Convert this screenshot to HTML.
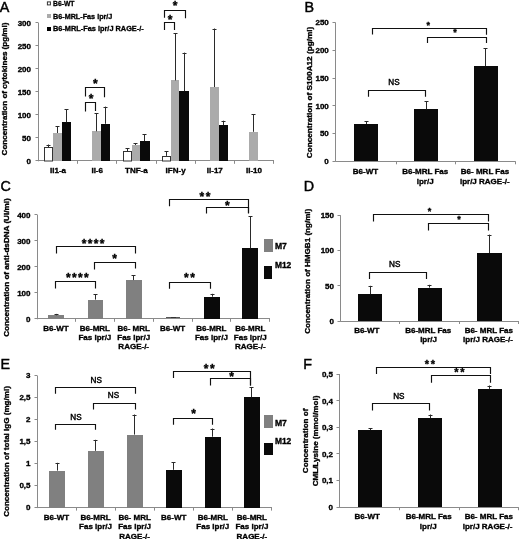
<!DOCTYPE html>
<html><head><meta charset="utf-8"><style>
html,body{margin:0;padding:0;background:#fff;width:520px;height:539px;overflow:hidden}
svg{display:block;font-family:"Liberation Sans", sans-serif;will-change:transform}
</style></head><body>
<svg width="520" height="539" viewBox="0 0 520 539">
<text x="-0.3" y="11.5" font-size="14.3" font-weight="normal" stroke="#000" stroke-width="0.45">A</text>
<line x1="38.5" y1="23" x2="38.5" y2="161.3" stroke="#8a8a8a" stroke-width="1"/>
<line x1="35.5" y1="160.5" x2="38.5" y2="160.5" stroke="#8a8a8a" stroke-width="1"/>
<text transform="translate(31.00,163.68) scale(1.0,1)" font-size="8.00" text-anchor="end" font-weight="bold" fill="#000" stroke="#000" stroke-width="0.35">0</text>
<line x1="35.5" y1="137.5" x2="38.5" y2="137.5" stroke="#8a8a8a" stroke-width="1"/>
<text transform="translate(31.00,140.68) scale(1.0,1)" font-size="8.00" text-anchor="end" font-weight="bold" fill="#000" stroke="#000" stroke-width="0.35">50</text>
<line x1="35.5" y1="114.5" x2="38.5" y2="114.5" stroke="#8a8a8a" stroke-width="1"/>
<text transform="translate(31.00,117.68) scale(1.0,1)" font-size="8.00" text-anchor="end" font-weight="bold" fill="#000" stroke="#000" stroke-width="0.35">100</text>
<line x1="35.5" y1="91.5" x2="38.5" y2="91.5" stroke="#8a8a8a" stroke-width="1"/>
<text transform="translate(31.00,94.68) scale(1.0,1)" font-size="8.00" text-anchor="end" font-weight="bold" fill="#000" stroke="#000" stroke-width="0.35">150</text>
<line x1="35.5" y1="68.5" x2="38.5" y2="68.5" stroke="#8a8a8a" stroke-width="1"/>
<text transform="translate(31.00,71.68) scale(1.0,1)" font-size="8.00" text-anchor="end" font-weight="bold" fill="#000" stroke="#000" stroke-width="0.35">200</text>
<line x1="35.5" y1="45.5" x2="38.5" y2="45.5" stroke="#8a8a8a" stroke-width="1"/>
<text transform="translate(31.00,48.68) scale(1.0,1)" font-size="8.00" text-anchor="end" font-weight="bold" fill="#000" stroke="#000" stroke-width="0.35">250</text>
<line x1="35.5" y1="22.5" x2="38.5" y2="22.5" stroke="#8a8a8a" stroke-width="1"/>
<text transform="translate(31.00,25.68) scale(1.0,1)" font-size="8.00" text-anchor="end" font-weight="bold" fill="#000" stroke="#000" stroke-width="0.35">300</text>
<line x1="38" y1="160.5" x2="274" y2="160.5" stroke="#8a8a8a" stroke-width="1"/>
<line x1="77.5" y1="160.8" x2="77.5" y2="163.8" stroke="#8a8a8a" stroke-width="1"/>
<line x1="116.5" y1="160.8" x2="116.5" y2="163.8" stroke="#8a8a8a" stroke-width="1"/>
<line x1="156.5" y1="160.8" x2="156.5" y2="163.8" stroke="#8a8a8a" stroke-width="1"/>
<line x1="195.5" y1="160.8" x2="195.5" y2="163.8" stroke="#8a8a8a" stroke-width="1"/>
<line x1="234.5" y1="160.8" x2="234.5" y2="163.8" stroke="#8a8a8a" stroke-width="1"/>
<line x1="273.5" y1="160.8" x2="273.5" y2="163.8" stroke="#8a8a8a" stroke-width="1"/>
<text transform="translate(7.1,89.0) rotate(-90)" x="0" y="0" font-size="8" text-anchor="middle" font-weight="bold" stroke="#000" stroke-width="0.35" textLength="132.9" lengthAdjust="spacingAndGlyphs">Concentration of cytokines (pg/ml)</text>
<rect x="47.4" y="1.9" width="3.0" height="3.0000000000000004" fill="#fff" stroke="#333" stroke-width="1"/>
<rect x="47" y="14" width="4" height="4" fill="#ababab"/>
<rect x="47" y="27" width="4" height="4" fill="#000"/>
<text transform="translate(53.00,5.80) scale(1.0,1)" font-size="8.00" text-anchor="start" font-weight="bold" fill="#000" stroke="#000" stroke-width="0.35" textLength="21.50" lengthAdjust="spacingAndGlyphs">B6-WT</text>
<text transform="translate(53.00,18.90) scale(1.0,1)" font-size="8.00" text-anchor="start" font-weight="bold" fill="#000" stroke="#000" stroke-width="0.35" textLength="59.40" lengthAdjust="spacingAndGlyphs">B6-MRL-Fas lpr/J</text>
<text transform="translate(53.00,31.40) scale(1.0,1)" font-size="8.00" text-anchor="start" font-weight="bold" fill="#000" stroke="#000" stroke-width="0.35" textLength="90.70" lengthAdjust="spacingAndGlyphs">B6-MRL-Fas lpr/J RAGE-/-</text>
<rect x="44.5" y="147.5" width="8.0" height="13.5" fill="#fff" stroke="#333" stroke-width="1"/>
<line x1="48.5" y1="144.5" x2="48.5" y2="147.4" stroke="#2a2a2a" stroke-width="1"/>
<line x1="46.5" y1="145.5" x2="50.5" y2="145.5" stroke="#2a2a2a" stroke-width="1"/>
<rect x="53" y="133" width="9" height="28" fill="#ababab"/>
<line x1="57.5" y1="126.4" x2="57.5" y2="133" stroke="#2a2a2a" stroke-width="1"/>
<line x1="55.5" y1="126.5" x2="59.5" y2="126.5" stroke="#2a2a2a" stroke-width="1"/>
<rect x="62" y="122" width="9" height="39" fill="#0a0a0a"/>
<line x1="66.5" y1="109" x2="66.5" y2="122.3" stroke="#2a2a2a" stroke-width="1"/>
<line x1="64.5" y1="109.5" x2="68.5" y2="109.5" stroke="#2a2a2a" stroke-width="1"/>
<rect x="92" y="131" width="9" height="30" fill="#ababab"/>
<line x1="96.5" y1="113.2" x2="96.5" y2="131.3" stroke="#2a2a2a" stroke-width="1"/>
<line x1="94.5" y1="113.5" x2="98.5" y2="113.5" stroke="#2a2a2a" stroke-width="1"/>
<rect x="101" y="124" width="9" height="37" fill="#0a0a0a"/>
<line x1="105.5" y1="106.6" x2="105.5" y2="123.8" stroke="#2a2a2a" stroke-width="1"/>
<line x1="103.5" y1="107.5" x2="107.5" y2="107.5" stroke="#2a2a2a" stroke-width="1"/>
<rect x="123.5" y="151.5" width="8.0" height="9.5" fill="#fff" stroke="#333" stroke-width="1"/>
<line x1="127.5" y1="148.3" x2="127.5" y2="151.3" stroke="#2a2a2a" stroke-width="1"/>
<line x1="125.5" y1="148.5" x2="129.5" y2="148.5" stroke="#2a2a2a" stroke-width="1"/>
<rect x="132" y="145" width="8" height="16" fill="#ababab"/>
<line x1="135.5" y1="143.1" x2="135.5" y2="145" stroke="#2a2a2a" stroke-width="1"/>
<line x1="133.5" y1="143.5" x2="137.5" y2="143.5" stroke="#2a2a2a" stroke-width="1"/>
<rect x="140" y="141" width="10" height="20" fill="#0a0a0a"/>
<line x1="144.5" y1="134.4" x2="144.5" y2="141.1" stroke="#2a2a2a" stroke-width="1"/>
<line x1="142.5" y1="134.5" x2="146.5" y2="134.5" stroke="#2a2a2a" stroke-width="1"/>
<rect x="162.5" y="156.5" width="8.0" height="4.5" fill="#fff" stroke="#333" stroke-width="1"/>
<line x1="166.5" y1="151.2" x2="166.5" y2="155.9" stroke="#2a2a2a" stroke-width="1"/>
<line x1="164.5" y1="151.5" x2="168.5" y2="151.5" stroke="#2a2a2a" stroke-width="1"/>
<rect x="171" y="80" width="8" height="81" fill="#ababab"/>
<line x1="175.5" y1="33.1" x2="175.5" y2="80.4" stroke="#2a2a2a" stroke-width="1"/>
<line x1="173.5" y1="33.5" x2="177.5" y2="33.5" stroke="#2a2a2a" stroke-width="1"/>
<rect x="179" y="91" width="10" height="70" fill="#0a0a0a"/>
<line x1="184.5" y1="52.6" x2="184.5" y2="91.2" stroke="#2a2a2a" stroke-width="1"/>
<line x1="182.5" y1="53.5" x2="186.5" y2="53.5" stroke="#2a2a2a" stroke-width="1"/>
<rect x="210" y="87" width="9" height="74" fill="#ababab"/>
<line x1="214.5" y1="28.5" x2="214.5" y2="87" stroke="#2a2a2a" stroke-width="1"/>
<line x1="212.5" y1="29.5" x2="216.5" y2="29.5" stroke="#2a2a2a" stroke-width="1"/>
<rect x="219" y="125" width="9" height="36" fill="#0a0a0a"/>
<line x1="223.5" y1="120.7" x2="223.5" y2="125.2" stroke="#2a2a2a" stroke-width="1"/>
<line x1="221.5" y1="121.5" x2="225.5" y2="121.5" stroke="#2a2a2a" stroke-width="1"/>
<rect x="249" y="132" width="9" height="29" fill="#ababab"/>
<line x1="253.5" y1="114.4" x2="253.5" y2="131.8" stroke="#2a2a2a" stroke-width="1"/>
<line x1="251.5" y1="114.5" x2="255.5" y2="114.5" stroke="#2a2a2a" stroke-width="1"/>
<text transform="translate(58.00,172.70) scale(1.0,1)" font-size="8.00" text-anchor="middle" font-weight="bold" fill="#000" stroke="#000" stroke-width="0.35">Il1-a</text>
<text transform="translate(97.20,172.70) scale(1.0,1)" font-size="8.00" text-anchor="middle" font-weight="bold" fill="#000" stroke="#000" stroke-width="0.35">Il-6</text>
<text transform="translate(136.40,172.70) scale(1.0,1)" font-size="8.00" text-anchor="middle" font-weight="bold" fill="#000" stroke="#000" stroke-width="0.35">TNF-a</text>
<text transform="translate(175.60,172.70) scale(1.0,1)" font-size="8.00" text-anchor="middle" font-weight="bold" fill="#000" stroke="#000" stroke-width="0.35">IFN-y</text>
<text transform="translate(214.80,172.70) scale(1.0,1)" font-size="8.00" text-anchor="middle" font-weight="bold" fill="#000" stroke="#000" stroke-width="0.35">Il-17</text>
<text transform="translate(254.00,172.70) scale(1.0,1)" font-size="8.00" text-anchor="middle" font-weight="bold" fill="#000" stroke="#000" stroke-width="0.35">Il-10</text>
<polyline points="85.5,96.5 85.5,87.5 104.5,87.5 104.5,97.3" fill="none" stroke="#111" stroke-width="1.15"/>
<text transform="translate(95.40,87.62) scale(1.0,1)" font-size="12.00" text-anchor="middle" font-weight="bold" fill="#000" stroke="#000" stroke-width="0.35">*</text>
<polyline points="85.5,111.4 85.5,102.5 95.5,102.5 95.5,111.0" fill="none" stroke="#111" stroke-width="1.15"/>
<text transform="translate(91.00,103.12) scale(1.0,1)" font-size="12.00" text-anchor="middle" font-weight="bold" fill="#000" stroke="#000" stroke-width="0.35">*</text>
<polyline points="164.5,17.8 164.5,10.5 185.5,10.5 185.5,18.3" fill="none" stroke="#111" stroke-width="1.15"/>
<text transform="translate(175.00,9.52) scale(1.0,1)" font-size="12.00" text-anchor="middle" font-weight="bold" fill="#000" stroke="#000" stroke-width="0.35">*</text>
<polyline points="164.5,30 164.5,22.5 174.5,22.5 174.5,30" fill="none" stroke="#111" stroke-width="1.15"/>
<text transform="translate(170.00,23.92) scale(1.0,1)" font-size="12.00" text-anchor="middle" font-weight="bold" fill="#000" stroke="#000" stroke-width="0.35">*</text>
<text x="304.4" y="11.7" font-size="14.3" font-weight="normal" stroke="#000" stroke-width="0.45">B</text>
<line x1="335.5" y1="22.5" x2="335.5" y2="161.8" stroke="#8a8a8a" stroke-width="1"/>
<line x1="332.5" y1="161.5" x2="335.5" y2="161.5" stroke="#8a8a8a" stroke-width="1"/>
<text transform="translate(328.80,164.18) scale(1.0,1)" font-size="8.00" text-anchor="end" font-weight="bold" fill="#000" stroke="#000" stroke-width="0.35">0</text>
<line x1="332.5" y1="133.5" x2="335.5" y2="133.5" stroke="#8a8a8a" stroke-width="1"/>
<text transform="translate(328.80,136.42) scale(1.0,1)" font-size="8.00" text-anchor="end" font-weight="bold" fill="#000" stroke="#000" stroke-width="0.35">50</text>
<line x1="332.5" y1="105.5" x2="335.5" y2="105.5" stroke="#8a8a8a" stroke-width="1"/>
<text transform="translate(328.80,108.66) scale(1.0,1)" font-size="8.00" text-anchor="end" font-weight="bold" fill="#000" stroke="#000" stroke-width="0.35">100</text>
<line x1="332.5" y1="78.5" x2="335.5" y2="78.5" stroke="#8a8a8a" stroke-width="1"/>
<text transform="translate(328.80,80.90) scale(1.0,1)" font-size="8.00" text-anchor="end" font-weight="bold" fill="#000" stroke="#000" stroke-width="0.35">150</text>
<line x1="332.5" y1="50.5" x2="335.5" y2="50.5" stroke="#8a8a8a" stroke-width="1"/>
<text transform="translate(328.80,53.14) scale(1.0,1)" font-size="8.00" text-anchor="end" font-weight="bold" fill="#000" stroke="#000" stroke-width="0.35">200</text>
<line x1="332.5" y1="22.5" x2="335.5" y2="22.5" stroke="#8a8a8a" stroke-width="1"/>
<text transform="translate(328.80,25.38) scale(1.0,1)" font-size="8.00" text-anchor="end" font-weight="bold" fill="#000" stroke="#000" stroke-width="0.35">250</text>
<line x1="335.8" y1="161.5" x2="515.5" y2="161.5" stroke="#8a8a8a" stroke-width="1"/>
<line x1="396.5" y1="161.3" x2="396.5" y2="164.3" stroke="#8a8a8a" stroke-width="1"/>
<line x1="455.5" y1="161.3" x2="455.5" y2="164.3" stroke="#8a8a8a" stroke-width="1"/>
<line x1="515.5" y1="161.3" x2="515.5" y2="164.3" stroke="#8a8a8a" stroke-width="1"/>
<text transform="translate(312,92.5) rotate(-90)" x="0" y="0" font-size="8" text-anchor="middle" font-weight="bold" stroke="#000" stroke-width="0.35" textLength="131.5" lengthAdjust="spacingAndGlyphs">Concentration  of S100A12 (pg/ml)</text>
<rect x="354" y="124" width="24" height="37" fill="#0a0a0a"/>
<line x1="366.5" y1="121.2" x2="366.5" y2="124" stroke="#2a2a2a" stroke-width="1"/>
<line x1="364.5" y1="121.5" x2="368.5" y2="121.5" stroke="#2a2a2a" stroke-width="1"/>
<rect x="414" y="109" width="24" height="52" fill="#0a0a0a"/>
<line x1="426.5" y1="101.2" x2="426.5" y2="109.4" stroke="#2a2a2a" stroke-width="1"/>
<line x1="424.5" y1="101.5" x2="428.5" y2="101.5" stroke="#2a2a2a" stroke-width="1"/>
<rect x="474" y="66" width="24" height="95" fill="#0a0a0a"/>
<line x1="485.5" y1="48" x2="485.5" y2="66.2" stroke="#2a2a2a" stroke-width="1"/>
<line x1="483.5" y1="48.5" x2="487.5" y2="48.5" stroke="#2a2a2a" stroke-width="1"/>
<polyline points="372.5,34.6 372.5,28.5 486.5,28.5 486.5,34.7" fill="none" stroke="#111" stroke-width="1.15"/>
<text transform="translate(428.30,27.64) scale(1.0,1)" font-size="9.00" text-anchor="middle" font-weight="bold" fill="#000" stroke="#000" stroke-width="0.35">*</text>
<polyline points="427.5,43 427.5,37.5 486.5,37.5 486.5,43" fill="none" stroke="#111" stroke-width="1.15"/>
<text transform="translate(455.00,35.44) scale(1.0,1)" font-size="9.00" text-anchor="middle" font-weight="bold" fill="#000" stroke="#000" stroke-width="0.35">*</text>
<polyline points="368.5,96.7 368.5,90.5 425.5,90.5 425.5,96.7" fill="none" stroke="#111" stroke-width="1.15"/>
<text transform="translate(394.00,85.44) scale(0.95,1)" font-size="8.6" text-anchor="middle" font-weight="normal" stroke="#000" stroke-width="0.45">NS</text>
<text transform="translate(365.50,174.30) scale(1.0,1)" font-size="8.00" text-anchor="middle" font-weight="bold" fill="#000" stroke="#000" stroke-width="0.35">B6-WT</text>
<text transform="translate(425.20,174.30) scale(1.0,1)" font-size="8.00" text-anchor="middle" font-weight="bold" fill="#000" stroke="#000" stroke-width="0.35">B6-MRL Fas</text>
<text transform="translate(425.20,183.90) scale(1.0,1)" font-size="8.00" text-anchor="middle" font-weight="bold" fill="#000" stroke="#000" stroke-width="0.35">lpr/J</text>
<text transform="translate(485.00,174.30) scale(1.0,1)" font-size="8.00" text-anchor="middle" font-weight="bold" fill="#000" stroke="#000" stroke-width="0.35">B6- MRL Fas</text>
<text transform="translate(484.80,183.90) scale(1.0,1)" font-size="8.00" text-anchor="middle" font-weight="bold" fill="#000" stroke="#000" stroke-width="0.35">lpr/J RAGE-/-</text>
<text x="0.6" y="191.3" font-size="14.3" font-weight="normal" stroke="#000" stroke-width="0.45">C</text>
<line x1="37.5" y1="215" x2="37.5" y2="319.3" stroke="#8a8a8a" stroke-width="1"/>
<line x1="34.5" y1="318.5" x2="37.5" y2="318.5" stroke="#8a8a8a" stroke-width="1"/>
<text transform="translate(30.50,321.68) scale(1.0,1)" font-size="8.00" text-anchor="end" font-weight="bold" fill="#000" stroke="#000" stroke-width="0.35">0</text>
<line x1="34.5" y1="292.5" x2="37.5" y2="292.5" stroke="#8a8a8a" stroke-width="1"/>
<text transform="translate(30.50,295.68) scale(1.0,1)" font-size="8.00" text-anchor="end" font-weight="bold" fill="#000" stroke="#000" stroke-width="0.35">100</text>
<line x1="34.5" y1="266.5" x2="37.5" y2="266.5" stroke="#8a8a8a" stroke-width="1"/>
<text transform="translate(30.50,269.68) scale(1.0,1)" font-size="8.00" text-anchor="end" font-weight="bold" fill="#000" stroke="#000" stroke-width="0.35">200</text>
<line x1="34.5" y1="240.5" x2="37.5" y2="240.5" stroke="#8a8a8a" stroke-width="1"/>
<text transform="translate(30.50,243.68) scale(1.0,1)" font-size="8.00" text-anchor="end" font-weight="bold" fill="#000" stroke="#000" stroke-width="0.35">300</text>
<line x1="34.5" y1="214.5" x2="37.5" y2="214.5" stroke="#8a8a8a" stroke-width="1"/>
<text transform="translate(30.50,217.68) scale(1.0,1)" font-size="8.00" text-anchor="end" font-weight="bold" fill="#000" stroke="#000" stroke-width="0.35">400</text>
<line x1="37.0" y1="318.5" x2="270" y2="318.5" stroke="#8a8a8a" stroke-width="1"/>
<line x1="75.5" y1="318.8" x2="75.5" y2="321.8" stroke="#8a8a8a" stroke-width="1"/>
<line x1="114.5" y1="318.8" x2="114.5" y2="321.8" stroke="#8a8a8a" stroke-width="1"/>
<line x1="153.5" y1="318.8" x2="153.5" y2="321.8" stroke="#8a8a8a" stroke-width="1"/>
<line x1="192.5" y1="318.8" x2="192.5" y2="321.8" stroke="#8a8a8a" stroke-width="1"/>
<line x1="230.5" y1="318.8" x2="230.5" y2="321.8" stroke="#8a8a8a" stroke-width="1"/>
<line x1="269.5" y1="318.8" x2="269.5" y2="321.8" stroke="#8a8a8a" stroke-width="1"/>
<text transform="translate(9.1,267.6) rotate(-90)" x="0" y="0" font-size="8" text-anchor="middle" font-weight="bold" stroke="#000" stroke-width="0.35" textLength="138.4" lengthAdjust="spacingAndGlyphs">Concentration of anti-dsDNA (UI/ml)</text>
<rect x="48" y="315" width="16" height="4" fill="#808080"/>
<line x1="56.5" y1="313.9" x2="56.5" y2="315.3" stroke="#2a2a2a" stroke-width="1"/>
<line x1="54.5" y1="314.5" x2="58.5" y2="314.5" stroke="#2a2a2a" stroke-width="1"/>
<rect x="88" y="300" width="15" height="19" fill="#808080"/>
<line x1="95.5" y1="294.3" x2="95.5" y2="299.6" stroke="#2a2a2a" stroke-width="1"/>
<line x1="93.5" y1="294.5" x2="97.5" y2="294.5" stroke="#2a2a2a" stroke-width="1"/>
<rect x="126" y="280" width="16" height="39" fill="#808080"/>
<line x1="133.5" y1="275.3" x2="133.5" y2="280.1" stroke="#2a2a2a" stroke-width="1"/>
<line x1="131.5" y1="275.5" x2="135.5" y2="275.5" stroke="#2a2a2a" stroke-width="1"/>
<rect x="166" y="317" width="14" height="1" fill="#555"/>
<rect x="171" y="317" width="5" height="1" fill="#333"/>
<rect x="204" y="297" width="16" height="22" fill="#0a0a0a"/>
<line x1="212.5" y1="293.8" x2="212.5" y2="296.7" stroke="#2a2a2a" stroke-width="1"/>
<line x1="210.5" y1="294.5" x2="214.5" y2="294.5" stroke="#2a2a2a" stroke-width="1"/>
<rect x="242" y="248" width="16" height="71" fill="#0a0a0a"/>
<line x1="250.5" y1="216" x2="250.5" y2="248.3" stroke="#2a2a2a" stroke-width="1"/>
<line x1="248.5" y1="216.5" x2="252.5" y2="216.5" stroke="#2a2a2a" stroke-width="1"/>
<polyline points="56.5,253.5 56.5,246.5 135.5,246.5 135.5,253.5" fill="none" stroke="#111" stroke-width="1.15"/>
<text transform="translate(84.00,248.02) scale(1.0,1)" font-size="12.00" text-anchor="middle" font-weight="bold" fill="#000" stroke="#000" stroke-width="0.35">*</text>
<text transform="translate(90.00,248.02) scale(1.0,1)" font-size="12.00" text-anchor="middle" font-weight="bold" fill="#000" stroke="#000" stroke-width="0.35">*</text>
<text transform="translate(96.00,248.02) scale(1.0,1)" font-size="12.00" text-anchor="middle" font-weight="bold" fill="#000" stroke="#000" stroke-width="0.35">*</text>
<text transform="translate(102.00,248.02) scale(1.0,1)" font-size="12.00" text-anchor="middle" font-weight="bold" fill="#000" stroke="#000" stroke-width="0.35">*</text>
<polyline points="94.5,269.6 94.5,262.5 135.5,262.5 135.5,268.5" fill="none" stroke="#111" stroke-width="1.15"/>
<text transform="translate(114.50,262.62) scale(1.0,1)" font-size="12.00" text-anchor="middle" font-weight="bold" fill="#000" stroke="#000" stroke-width="0.35">*</text>
<polyline points="55.5,288.5 55.5,281.5 95.5,281.5 95.5,288.5" fill="none" stroke="#111" stroke-width="1.15"/>
<text transform="translate(68.35,282.12) scale(1.0,1)" font-size="12.00" text-anchor="middle" font-weight="bold" fill="#000" stroke="#000" stroke-width="0.35">*</text>
<text transform="translate(74.35,282.12) scale(1.0,1)" font-size="12.00" text-anchor="middle" font-weight="bold" fill="#000" stroke="#000" stroke-width="0.35">*</text>
<text transform="translate(80.35,282.12) scale(1.0,1)" font-size="12.00" text-anchor="middle" font-weight="bold" fill="#000" stroke="#000" stroke-width="0.35">*</text>
<text transform="translate(86.35,282.12) scale(1.0,1)" font-size="12.00" text-anchor="middle" font-weight="bold" fill="#000" stroke="#000" stroke-width="0.35">*</text>
<polyline points="169.5,206.2 169.5,199.5 248.5,199.5 248.5,212.9" fill="none" stroke="#111" stroke-width="1.15"/>
<text transform="translate(201.90,201.22) scale(1.0,1)" font-size="12.00" text-anchor="middle" font-weight="bold" fill="#000" stroke="#000" stroke-width="0.35">*</text>
<text transform="translate(208.10,201.22) scale(1.0,1)" font-size="12.00" text-anchor="middle" font-weight="bold" fill="#000" stroke="#000" stroke-width="0.35">*</text>
<polyline points="206.5,213.5 206.5,207.5 248.5,207.5 248.5,213.5" fill="none" stroke="#111" stroke-width="1.15"/>
<text transform="translate(227.30,209.72) scale(1.0,1)" font-size="12.00" text-anchor="middle" font-weight="bold" fill="#000" stroke="#000" stroke-width="0.35">*</text>
<polyline points="169.5,288.7 169.5,282.5 210.5,282.5 210.5,288.7" fill="none" stroke="#111" stroke-width="1.15"/>
<text transform="translate(186.40,282.42) scale(1.0,1)" font-size="12.00" text-anchor="middle" font-weight="bold" fill="#000" stroke="#000" stroke-width="0.35">*</text>
<text transform="translate(192.60,282.42) scale(1.0,1)" font-size="12.00" text-anchor="middle" font-weight="bold" fill="#000" stroke="#000" stroke-width="0.35">*</text>
<text transform="translate(56.00,330.60) scale(1.0,1)" font-size="8.00" text-anchor="middle" font-weight="bold" fill="#000" stroke="#000" stroke-width="0.35">B6-WT</text>
<text transform="translate(94.85,330.60) scale(1.0,1)" font-size="8.00" text-anchor="middle" font-weight="bold" fill="#000" stroke="#000" stroke-width="0.35">B6-MRL</text>
<text transform="translate(94.85,339.80) scale(1.0,1)" font-size="8.00" text-anchor="middle" font-weight="bold" fill="#000" stroke="#000" stroke-width="0.35">Fas lpr/J</text>
<text transform="translate(133.70,330.60) scale(1.0,1)" font-size="8.00" text-anchor="middle" font-weight="bold" fill="#000" stroke="#000" stroke-width="0.35">B6- MRL</text>
<text transform="translate(133.70,339.80) scale(1.0,1)" font-size="8.00" text-anchor="middle" font-weight="bold" fill="#000" stroke="#000" stroke-width="0.35">Fas lpr/J</text>
<text transform="translate(133.70,349.00) scale(1.0,1)" font-size="8.00" text-anchor="middle" font-weight="bold" fill="#000" stroke="#000" stroke-width="0.35">RAGE-/-</text>
<text transform="translate(172.55,330.60) scale(1.0,1)" font-size="8.00" text-anchor="middle" font-weight="bold" fill="#000" stroke="#000" stroke-width="0.35">B6-WT</text>
<text transform="translate(211.40,330.60) scale(1.0,1)" font-size="8.00" text-anchor="middle" font-weight="bold" fill="#000" stroke="#000" stroke-width="0.35">B6-MRL</text>
<text transform="translate(211.40,339.80) scale(1.0,1)" font-size="8.00" text-anchor="middle" font-weight="bold" fill="#000" stroke="#000" stroke-width="0.35">Fas lpr/J</text>
<text transform="translate(250.25,330.60) scale(1.0,1)" font-size="8.00" text-anchor="middle" font-weight="bold" fill="#000" stroke="#000" stroke-width="0.35">B6-MRL</text>
<text transform="translate(250.25,339.80) scale(1.0,1)" font-size="8.00" text-anchor="middle" font-weight="bold" fill="#000" stroke="#000" stroke-width="0.35">Fas lpr/J</text>
<text transform="translate(250.25,349.00) scale(1.0,1)" font-size="8.00" text-anchor="middle" font-weight="bold" fill="#000" stroke="#000" stroke-width="0.35">RAGE-/-</text>
<rect x="264" y="239" width="9" height="13" fill="#808080"/>
<rect x="264" y="266" width="8" height="13" fill="#0a0a0a"/>
<text transform="translate(274.90,249.40) scale(1.0,1)" font-size="8.60" text-anchor="start" font-weight="bold" fill="#000" stroke="#000" stroke-width="0.35">M7</text>
<text transform="translate(274.90,268.20) scale(1.0,1)" font-size="8.40" text-anchor="start" font-weight="bold" fill="#000" stroke="#000" stroke-width="0.35">M12</text>
<text x="303.7" y="191.2" font-size="14.3" font-weight="normal" stroke="#000" stroke-width="0.45">D</text>
<line x1="340.5" y1="215.2" x2="340.5" y2="321.5" stroke="#8a8a8a" stroke-width="1"/>
<line x1="337.5" y1="321.5" x2="340.5" y2="321.5" stroke="#8a8a8a" stroke-width="1"/>
<text transform="translate(334.00,323.88) scale(1.0,1)" font-size="8.00" text-anchor="end" font-weight="bold" fill="#000" stroke="#000" stroke-width="0.35">0</text>
<line x1="337.5" y1="285.5" x2="340.5" y2="285.5" stroke="#8a8a8a" stroke-width="1"/>
<text transform="translate(334.00,288.61) scale(1.0,1)" font-size="8.00" text-anchor="end" font-weight="bold" fill="#000" stroke="#000" stroke-width="0.35">50</text>
<line x1="337.5" y1="250.5" x2="340.5" y2="250.5" stroke="#8a8a8a" stroke-width="1"/>
<text transform="translate(334.00,253.34) scale(1.0,1)" font-size="8.00" text-anchor="end" font-weight="bold" fill="#000" stroke="#000" stroke-width="0.35">100</text>
<line x1="337.5" y1="215.5" x2="340.5" y2="215.5" stroke="#8a8a8a" stroke-width="1"/>
<text transform="translate(334.00,218.07) scale(1.0,1)" font-size="8.00" text-anchor="end" font-weight="bold" fill="#000" stroke="#000" stroke-width="0.35">150</text>
<line x1="340.2" y1="321.5" x2="518.5" y2="321.5" stroke="#8a8a8a" stroke-width="1"/>
<line x1="399.5" y1="321" x2="399.5" y2="324" stroke="#8a8a8a" stroke-width="1"/>
<line x1="459.5" y1="321" x2="459.5" y2="324" stroke="#8a8a8a" stroke-width="1"/>
<line x1="518.5" y1="321" x2="518.5" y2="324" stroke="#8a8a8a" stroke-width="1"/>
<text transform="translate(310.3,271.25) rotate(-90)" x="0" y="0" font-size="8" text-anchor="middle" font-weight="bold" stroke="#000" stroke-width="0.35" textLength="125.1" lengthAdjust="spacingAndGlyphs">Concentration of HMGB1 (ng/ml)</text>
<rect x="358" y="294" width="24" height="27" fill="#0a0a0a"/>
<line x1="370.5" y1="285.8" x2="370.5" y2="294.2" stroke="#2a2a2a" stroke-width="1"/>
<line x1="368.5" y1="286.5" x2="372.5" y2="286.5" stroke="#2a2a2a" stroke-width="1"/>
<rect x="418" y="288" width="24" height="33" fill="#0a0a0a"/>
<line x1="429.5" y1="284.8" x2="429.5" y2="287.6" stroke="#2a2a2a" stroke-width="1"/>
<line x1="427.5" y1="285.5" x2="431.5" y2="285.5" stroke="#2a2a2a" stroke-width="1"/>
<rect x="477" y="253" width="25" height="68" fill="#0a0a0a"/>
<line x1="489.5" y1="234.6" x2="489.5" y2="253" stroke="#2a2a2a" stroke-width="1"/>
<line x1="487.5" y1="235.5" x2="491.5" y2="235.5" stroke="#2a2a2a" stroke-width="1"/>
<polyline points="373.5,221.5 373.5,214.5 488.5,214.5 488.5,221.5" fill="none" stroke="#111" stroke-width="1.15"/>
<text transform="translate(429.60,213.94) scale(1.0,1)" font-size="9.00" text-anchor="middle" font-weight="bold" fill="#000" stroke="#000" stroke-width="0.35">*</text>
<polyline points="428.5,230.5 428.5,223.5 488.5,223.5 488.5,230.5" fill="none" stroke="#111" stroke-width="1.15"/>
<text transform="translate(458.90,222.04) scale(1.0,1)" font-size="9.00" text-anchor="middle" font-weight="bold" fill="#000" stroke="#000" stroke-width="0.35">*</text>
<polyline points="369.5,278.9 369.5,272.5 426.5,272.5 426.5,278.9" fill="none" stroke="#111" stroke-width="1.15"/>
<text transform="translate(394.70,267.24) scale(0.95,1)" font-size="8.6" text-anchor="middle" font-weight="normal" stroke="#000" stroke-width="0.45">NS</text>
<text transform="translate(366.80,332.80) scale(1.0,1)" font-size="8.00" text-anchor="middle" font-weight="bold" fill="#000" stroke="#000" stroke-width="0.35">B6-WT</text>
<text transform="translate(428.20,332.80) scale(1.0,1)" font-size="8.00" text-anchor="middle" font-weight="bold" fill="#000" stroke="#000" stroke-width="0.35">B6-MRL Fas</text>
<text transform="translate(428.60,342.00) scale(1.0,1)" font-size="8.00" text-anchor="middle" font-weight="bold" fill="#000" stroke="#000" stroke-width="0.35">lpr/J</text>
<text transform="translate(488.80,332.80) scale(1.0,1)" font-size="8.00" text-anchor="middle" font-weight="bold" fill="#000" stroke="#000" stroke-width="0.35">B6- MRL Fas</text>
<text transform="translate(488.00,342.00) scale(1.0,1)" font-size="8.00" text-anchor="middle" font-weight="bold" fill="#000" stroke="#000" stroke-width="0.35">lpr/J RAGE-/-</text>
<text x="0.6" y="369.4" font-size="14.3" font-weight="normal" stroke="#000" stroke-width="0.45">E</text>
<line x1="37.5" y1="375.9" x2="37.5" y2="508.1" stroke="#8a8a8a" stroke-width="1"/>
<line x1="34.5" y1="507.5" x2="37.5" y2="507.5" stroke="#8a8a8a" stroke-width="1"/>
<text transform="translate(30.50,510.48) scale(1.0,1)" font-size="8.00" text-anchor="end" font-weight="bold" fill="#000" stroke="#000" stroke-width="0.35">0</text>
<line x1="34.5" y1="485.5" x2="37.5" y2="485.5" stroke="#8a8a8a" stroke-width="1"/>
<text transform="translate(30.50,488.48) scale(1.0,1)" font-size="8.00" text-anchor="end" font-weight="bold" fill="#000" stroke="#000" stroke-width="0.35">0,5</text>
<line x1="34.5" y1="463.5" x2="37.5" y2="463.5" stroke="#8a8a8a" stroke-width="1"/>
<text transform="translate(30.50,466.48) scale(1.0,1)" font-size="8.00" text-anchor="end" font-weight="bold" fill="#000" stroke="#000" stroke-width="0.35">1</text>
<line x1="34.5" y1="441.5" x2="37.5" y2="441.5" stroke="#8a8a8a" stroke-width="1"/>
<text transform="translate(30.50,444.48) scale(1.0,1)" font-size="8.00" text-anchor="end" font-weight="bold" fill="#000" stroke="#000" stroke-width="0.35">1,5</text>
<line x1="34.5" y1="419.5" x2="37.5" y2="419.5" stroke="#8a8a8a" stroke-width="1"/>
<text transform="translate(30.50,422.48) scale(1.0,1)" font-size="8.00" text-anchor="end" font-weight="bold" fill="#000" stroke="#000" stroke-width="0.35">2</text>
<line x1="34.5" y1="397.5" x2="37.5" y2="397.5" stroke="#8a8a8a" stroke-width="1"/>
<text transform="translate(30.50,400.48) scale(1.0,1)" font-size="8.00" text-anchor="end" font-weight="bold" fill="#000" stroke="#000" stroke-width="0.35">2,5</text>
<line x1="34.5" y1="375.5" x2="37.5" y2="375.5" stroke="#8a8a8a" stroke-width="1"/>
<text transform="translate(30.50,378.48) scale(1.0,1)" font-size="8.00" text-anchor="end" font-weight="bold" fill="#000" stroke="#000" stroke-width="0.35">3</text>
<line x1="37.2" y1="507.5" x2="272" y2="507.5" stroke="#8a8a8a" stroke-width="1"/>
<line x1="76.5" y1="507.6" x2="76.5" y2="510.6" stroke="#8a8a8a" stroke-width="1"/>
<line x1="115.5" y1="507.6" x2="115.5" y2="510.6" stroke="#8a8a8a" stroke-width="1"/>
<line x1="154.5" y1="507.6" x2="154.5" y2="510.6" stroke="#8a8a8a" stroke-width="1"/>
<line x1="193.5" y1="507.6" x2="193.5" y2="510.6" stroke="#8a8a8a" stroke-width="1"/>
<line x1="232.5" y1="507.6" x2="232.5" y2="510.6" stroke="#8a8a8a" stroke-width="1"/>
<line x1="271.5" y1="507.6" x2="271.5" y2="510.6" stroke="#8a8a8a" stroke-width="1"/>
<text transform="translate(9.3,451.5) rotate(-90)" x="0" y="0" font-size="8" text-anchor="middle" font-weight="bold" stroke="#000" stroke-width="0.35" textLength="130.7" lengthAdjust="spacingAndGlyphs">Concentration of total IgG (mg/ml)</text>
<rect x="49" y="471" width="16" height="37" fill="#808080"/>
<line x1="57.5" y1="462.8" x2="57.5" y2="470.6" stroke="#2a2a2a" stroke-width="1"/>
<line x1="55.5" y1="463.5" x2="59.5" y2="463.5" stroke="#2a2a2a" stroke-width="1"/>
<rect x="88" y="451" width="16" height="57" fill="#808080"/>
<line x1="95.5" y1="439.8" x2="95.5" y2="450.8" stroke="#2a2a2a" stroke-width="1"/>
<line x1="93.5" y1="440.5" x2="97.5" y2="440.5" stroke="#2a2a2a" stroke-width="1"/>
<rect x="127" y="435" width="16" height="73" fill="#808080"/>
<line x1="134.5" y1="414.5" x2="134.5" y2="434.6" stroke="#2a2a2a" stroke-width="1"/>
<line x1="132.5" y1="415.5" x2="136.5" y2="415.5" stroke="#2a2a2a" stroke-width="1"/>
<rect x="166" y="470" width="16" height="38" fill="#0a0a0a"/>
<line x1="173.5" y1="462.1" x2="173.5" y2="469.8" stroke="#2a2a2a" stroke-width="1"/>
<line x1="171.5" y1="462.5" x2="175.5" y2="462.5" stroke="#2a2a2a" stroke-width="1"/>
<rect x="205" y="437" width="16" height="71" fill="#0a0a0a"/>
<line x1="212.5" y1="428.5" x2="212.5" y2="436.7" stroke="#2a2a2a" stroke-width="1"/>
<line x1="210.5" y1="429.5" x2="214.5" y2="429.5" stroke="#2a2a2a" stroke-width="1"/>
<rect x="244" y="397" width="16" height="111" fill="#0a0a0a"/>
<line x1="251.5" y1="387.1" x2="251.5" y2="397.2" stroke="#2a2a2a" stroke-width="1"/>
<line x1="249.5" y1="387.5" x2="253.5" y2="387.5" stroke="#2a2a2a" stroke-width="1"/>
<polyline points="55.5,393.8 55.5,387.5 135.5,387.5 135.5,393.8" fill="none" stroke="#111" stroke-width="1.15"/>
<text transform="translate(96.20,383.14) scale(0.95,1)" font-size="8.6" text-anchor="middle" font-weight="normal" stroke="#000" stroke-width="0.45">NS</text>
<polyline points="93.5,409.6 93.5,403.5 135.5,403.5 135.5,409.6" fill="none" stroke="#111" stroke-width="1.15"/>
<text transform="translate(113.50,397.74) scale(0.95,1)" font-size="8.6" text-anchor="middle" font-weight="normal" stroke="#000" stroke-width="0.45">NS</text>
<polyline points="55.5,429.7 55.5,424.5 95.5,424.5 95.5,429.7" fill="none" stroke="#111" stroke-width="1.15"/>
<text transform="translate(76.00,419.94) scale(0.95,1)" font-size="8.6" text-anchor="middle" font-weight="normal" stroke="#000" stroke-width="0.45">NS</text>
<polyline points="173.5,378 173.5,371.5 250.5,371.5 250.5,385.6" fill="none" stroke="#111" stroke-width="1.15"/>
<text transform="translate(206.20,373.12) scale(1.0,1)" font-size="12.00" text-anchor="middle" font-weight="bold" fill="#000" stroke="#000" stroke-width="0.35">*</text>
<text transform="translate(212.40,373.12) scale(1.0,1)" font-size="12.00" text-anchor="middle" font-weight="bold" fill="#000" stroke="#000" stroke-width="0.35">*</text>
<polyline points="210.5,385.6 210.5,378.5 250.5,378.5 250.5,385.6" fill="none" stroke="#111" stroke-width="1.15"/>
<text transform="translate(231.50,381.32) scale(1.0,1)" font-size="12.00" text-anchor="middle" font-weight="bold" fill="#000" stroke="#000" stroke-width="0.35">*</text>
<polyline points="173.5,424.8 173.5,418.5 212.5,418.5 212.5,424.8" fill="none" stroke="#111" stroke-width="1.15"/>
<text transform="translate(193.60,418.32) scale(1.0,1)" font-size="12.00" text-anchor="middle" font-weight="bold" fill="#000" stroke="#000" stroke-width="0.35">*</text>
<text transform="translate(56.40,520.20) scale(1.0,1)" font-size="8.00" text-anchor="middle" font-weight="bold" fill="#000" stroke="#000" stroke-width="0.35">B6-WT</text>
<text transform="translate(95.50,520.20) scale(1.0,1)" font-size="8.00" text-anchor="middle" font-weight="bold" fill="#000" stroke="#000" stroke-width="0.35">B6-MRL</text>
<text transform="translate(95.50,529.40) scale(1.0,1)" font-size="8.00" text-anchor="middle" font-weight="bold" fill="#000" stroke="#000" stroke-width="0.35">Fas lpr/J</text>
<text transform="translate(134.60,520.20) scale(1.0,1)" font-size="8.00" text-anchor="middle" font-weight="bold" fill="#000" stroke="#000" stroke-width="0.35">B6- MRL</text>
<text transform="translate(134.60,529.40) scale(1.0,1)" font-size="8.00" text-anchor="middle" font-weight="bold" fill="#000" stroke="#000" stroke-width="0.35">Fas lpr/J</text>
<text transform="translate(134.60,538.60) scale(1.0,1)" font-size="8.00" text-anchor="middle" font-weight="bold" fill="#000" stroke="#000" stroke-width="0.35">RAGE-/-</text>
<text transform="translate(173.70,520.20) scale(1.0,1)" font-size="8.00" text-anchor="middle" font-weight="bold" fill="#000" stroke="#000" stroke-width="0.35">B6-WT</text>
<text transform="translate(212.80,520.20) scale(1.0,1)" font-size="8.00" text-anchor="middle" font-weight="bold" fill="#000" stroke="#000" stroke-width="0.35">B6-MRL</text>
<text transform="translate(212.80,529.40) scale(1.0,1)" font-size="8.00" text-anchor="middle" font-weight="bold" fill="#000" stroke="#000" stroke-width="0.35">Fas lpr/J</text>
<text transform="translate(251.90,520.20) scale(1.0,1)" font-size="8.00" text-anchor="middle" font-weight="bold" fill="#000" stroke="#000" stroke-width="0.35">B6-MRL</text>
<text transform="translate(251.90,529.40) scale(1.0,1)" font-size="8.00" text-anchor="middle" font-weight="bold" fill="#000" stroke="#000" stroke-width="0.35">Fas lpr/J</text>
<text transform="translate(251.90,538.60) scale(1.0,1)" font-size="8.00" text-anchor="middle" font-weight="bold" fill="#000" stroke="#000" stroke-width="0.35">RAGE-/-</text>
<rect x="264" y="415" width="9" height="13" fill="#808080"/>
<rect x="264" y="443" width="9" height="12" fill="#0a0a0a"/>
<text transform="translate(274.90,425.60) scale(1.0,1)" font-size="8.60" text-anchor="start" font-weight="bold" fill="#000" stroke="#000" stroke-width="0.35">M7</text>
<text transform="translate(274.90,444.40) scale(1.0,1)" font-size="8.40" text-anchor="start" font-weight="bold" fill="#000" stroke="#000" stroke-width="0.35">M12</text>
<text x="303.2" y="368.7" font-size="14.3" font-weight="normal" stroke="#000" stroke-width="0.45">F</text>
<line x1="339.5" y1="374" x2="339.5" y2="507.7" stroke="#8a8a8a" stroke-width="1"/>
<line x1="336.5" y1="507.5" x2="339.5" y2="507.5" stroke="#8a8a8a" stroke-width="1"/>
<text transform="translate(333.00,510.08) scale(1.0,1)" font-size="8.00" text-anchor="end" font-weight="bold" fill="#000" stroke="#000" stroke-width="0.35">0</text>
<line x1="336.5" y1="480.5" x2="339.5" y2="480.5" stroke="#8a8a8a" stroke-width="1"/>
<text transform="translate(333.00,483.44) scale(1.0,1)" font-size="8.00" text-anchor="end" font-weight="bold" fill="#000" stroke="#000" stroke-width="0.35">0,1</text>
<line x1="336.5" y1="453.5" x2="339.5" y2="453.5" stroke="#8a8a8a" stroke-width="1"/>
<text transform="translate(333.00,456.80) scale(1.0,1)" font-size="8.00" text-anchor="end" font-weight="bold" fill="#000" stroke="#000" stroke-width="0.35">0,2</text>
<line x1="336.5" y1="427.5" x2="339.5" y2="427.5" stroke="#8a8a8a" stroke-width="1"/>
<text transform="translate(333.00,430.16) scale(1.0,1)" font-size="8.00" text-anchor="end" font-weight="bold" fill="#000" stroke="#000" stroke-width="0.35">0,3</text>
<line x1="336.5" y1="400.5" x2="339.5" y2="400.5" stroke="#8a8a8a" stroke-width="1"/>
<text transform="translate(333.00,403.52) scale(1.0,1)" font-size="8.00" text-anchor="end" font-weight="bold" fill="#000" stroke="#000" stroke-width="0.35">0,4</text>
<line x1="336.5" y1="374.5" x2="339.5" y2="374.5" stroke="#8a8a8a" stroke-width="1"/>
<text transform="translate(333.00,376.88) scale(1.0,1)" font-size="8.00" text-anchor="end" font-weight="bold" fill="#000" stroke="#000" stroke-width="0.35">0,5</text>
<line x1="339" y1="507.5" x2="518.5" y2="507.5" stroke="#8a8a8a" stroke-width="1"/>
<line x1="399.5" y1="507.2" x2="399.5" y2="510.2" stroke="#8a8a8a" stroke-width="1"/>
<line x1="459.5" y1="507.2" x2="459.5" y2="510.2" stroke="#8a8a8a" stroke-width="1"/>
<line x1="518.5" y1="507.2" x2="518.5" y2="510.2" stroke="#8a8a8a" stroke-width="1"/>
<text transform="translate(308.4,440.9) rotate(-90)" x="0" y="0" font-size="8" text-anchor="middle" font-weight="bold" stroke="#000" stroke-width="0.35" textLength="64.5" lengthAdjust="spacingAndGlyphs">Concentration of</text>
<text transform="translate(317.9,441.0) rotate(-90)" x="0" y="0" font-size="8" text-anchor="middle" font-weight="bold" stroke="#000" stroke-width="0.35" textLength="90.7" lengthAdjust="spacingAndGlyphs">CML/Lysine (mmol/mol)</text>
<rect x="358" y="430" width="24" height="77" fill="#0a0a0a"/>
<line x1="370.5" y1="428.4" x2="370.5" y2="430.1" stroke="#2a2a2a" stroke-width="1"/>
<line x1="368.5" y1="428.5" x2="372.5" y2="428.5" stroke="#2a2a2a" stroke-width="1"/>
<rect x="418" y="418" width="24" height="89" fill="#0a0a0a"/>
<line x1="430.5" y1="414.5" x2="430.5" y2="418.3" stroke="#2a2a2a" stroke-width="1"/>
<line x1="428.5" y1="415.5" x2="432.5" y2="415.5" stroke="#2a2a2a" stroke-width="1"/>
<rect x="478" y="389" width="24" height="118" fill="#0a0a0a"/>
<line x1="489.5" y1="385.5" x2="489.5" y2="388.9" stroke="#2a2a2a" stroke-width="1"/>
<line x1="487.5" y1="386.5" x2="491.5" y2="386.5" stroke="#2a2a2a" stroke-width="1"/>
<polyline points="376.5,374 376.5,367.5 490.5,367.5 490.5,374" fill="none" stroke="#111" stroke-width="1.15"/>
<text transform="translate(426.90,367.76) scale(1.0,1)" font-size="11.00" text-anchor="middle" font-weight="bold" fill="#000" stroke="#000" stroke-width="0.35">*</text>
<text transform="translate(433.00,367.76) scale(1.0,1)" font-size="11.00" text-anchor="middle" font-weight="bold" fill="#000" stroke="#000" stroke-width="0.35">*</text>
<polyline points="431.5,382.7 431.5,375.5 490.5,375.5 490.5,382.7" fill="none" stroke="#111" stroke-width="1.15"/>
<text transform="translate(456.30,376.36) scale(1.0,1)" font-size="11.00" text-anchor="middle" font-weight="bold" fill="#000" stroke="#000" stroke-width="0.35">*</text>
<text transform="translate(462.30,376.36) scale(1.0,1)" font-size="11.00" text-anchor="middle" font-weight="bold" fill="#000" stroke="#000" stroke-width="0.35">*</text>
<polyline points="372.5,410.4 372.5,403.5 429.5,403.5 429.5,410.4" fill="none" stroke="#111" stroke-width="1.15"/>
<text transform="translate(398.80,398.84) scale(0.95,1)" font-size="8.6" text-anchor="middle" font-weight="normal" stroke="#000" stroke-width="0.45">NS</text>
<text transform="translate(367.20,519.40) scale(1.0,1)" font-size="8.00" text-anchor="middle" font-weight="bold" fill="#000" stroke="#000" stroke-width="0.35">B6-WT</text>
<text transform="translate(428.70,519.40) scale(1.0,1)" font-size="8.00" text-anchor="middle" font-weight="bold" fill="#000" stroke="#000" stroke-width="0.35">B6-MRL Fas</text>
<text transform="translate(428.30,528.80) scale(1.0,1)" font-size="8.00" text-anchor="middle" font-weight="bold" fill="#000" stroke="#000" stroke-width="0.35">lpr/J</text>
<text transform="translate(488.80,519.40) scale(1.0,1)" font-size="8.00" text-anchor="middle" font-weight="bold" fill="#000" stroke="#000" stroke-width="0.35">B6- MRL Fas</text>
<text transform="translate(487.60,528.80) scale(1.0,1)" font-size="8.00" text-anchor="middle" font-weight="bold" fill="#000" stroke="#000" stroke-width="0.35">lpr/J RAGE-/-</text>
</svg>
</body></html>
